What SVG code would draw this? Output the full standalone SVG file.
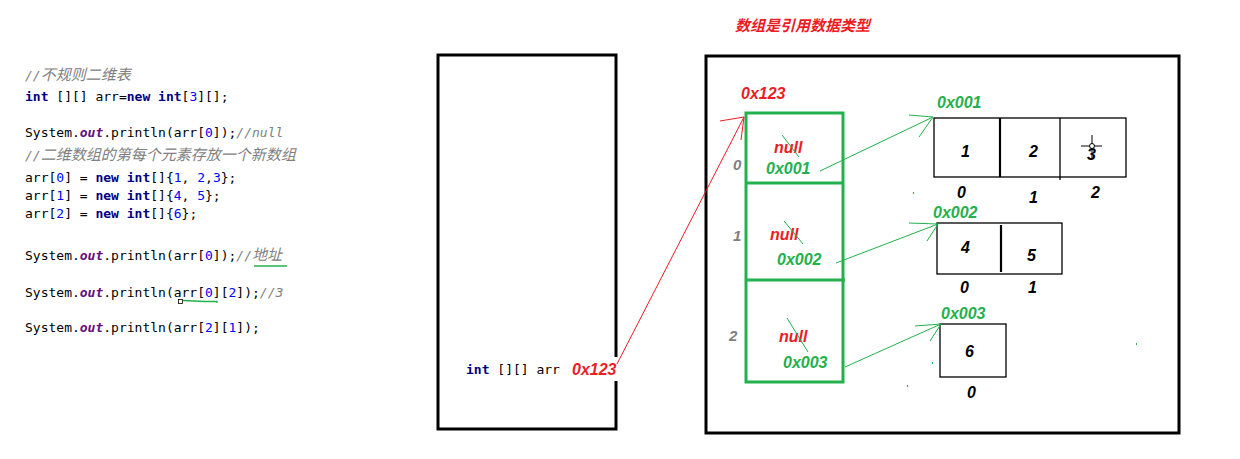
<svg xmlns="http://www.w3.org/2000/svg" width="1240" height="459" viewBox="0 0 1240 459">
<defs>
<style>
.code{font-family:"DejaVu Sans Mono","Noto Sans CJK SC",monospace;font-size:13px;fill:#000}
.kw{font-weight:bold;fill:#000080}
.num{fill:#0000ff}
.out{font-weight:bold;font-style:italic;fill:#660e7a}
.cm{font-style:italic;fill:#808080}
.cjk{font-family:"Noto Sans CJK SC",sans-serif;font-size:15px}
.lbl{font-family:"Liberation Sans",Arial,sans-serif;font-weight:bold;font-style:italic;font-size:16px}
.red{fill:#ed1c24}
.grn{fill:#22b14c}
.blk{fill:#000}
.gry{fill:#7f7f7f;font-size:15px}
.frame{fill:none;stroke:#000;stroke-width:3}
.cell{fill:none;stroke:#000;stroke-width:1.3}
.gbox{fill:none;stroke:#22b14c;stroke-width:3}
.gl{stroke:#22b14c;stroke-width:1;fill:none}
.rl{stroke:#ed1c24;stroke-width:1;fill:none}
</style>
</defs>
<rect width="1240" height="459" fill="#fff"/>

<g id="title">
<text x="735" y="31" font-family="Noto Sans CJK SC,sans-serif" font-size="15" font-weight="bold" font-style="italic" fill="#ed1c24">数组是引用数据类型</text>
</g>

<g id="code">
<text class="code" x="25" y="80"><tspan class="cm">//<tspan class="cjk">不规则二维表</tspan></tspan></text>
<text class="code" x="25" y="101"><tspan class="kw">int</tspan> [][] arr=<tspan class="kw">new</tspan> <tspan class="kw">int</tspan>[<tspan class="num">3</tspan>][];</text>
<text class="code" x="25" y="137">System.<tspan class="out">out</tspan>.println(arr[<tspan class="num">0</tspan>]);<tspan class="cm">//null</tspan></text>
<text class="code" x="25" y="160"><tspan class="cm">//<tspan class="cjk">二维数组的第每个元素存放一个新数组</tspan></tspan></text>
<text class="code" x="25" y="182">arr[<tspan class="num">0</tspan>] = <tspan class="kw">new</tspan> <tspan class="kw">int</tspan>[]{<tspan class="num">1</tspan>, <tspan class="num">2</tspan>,<tspan class="num">3</tspan>};</text>
<text class="code" x="25" y="200">arr[<tspan class="num">1</tspan>] = <tspan class="kw">new</tspan> <tspan class="kw">int</tspan>[]{<tspan class="num">4</tspan>, <tspan class="num">5</tspan>};</text>
<text class="code" x="25" y="218">arr[<tspan class="num">2</tspan>] = <tspan class="kw">new</tspan> <tspan class="kw">int</tspan>[]{<tspan class="num">6</tspan>};</text>
<text class="code" x="25" y="260">System.<tspan class="out">out</tspan>.println(arr[<tspan class="num">0</tspan>]);<tspan class="cm">//<tspan class="cjk">地址</tspan></tspan></text>
<text class="code" x="25" y="297">System.<tspan class="out">out</tspan>.println(arr[<tspan class="num">0</tspan>][<tspan class="num">2</tspan>]);<tspan class="cm">//3</tspan></text>
<text class="code" x="25" y="332">System.<tspan class="out">out</tspan>.println(arr[<tspan class="num">2</tspan>][<tspan class="num">1</tspan>]);</text>
<path d="M254,266 H287" stroke="#22b14c" stroke-width="1.5"/>
<path d="M183,300.5 L205,301.5 H217 V303" stroke="#22b14c" stroke-width="1.3" fill="none"/>
<rect x="178.5" y="299.5" width="4" height="4" fill="none" stroke="#000" stroke-width="0.8"/>
</g>

<g id="stack">
<path class="frame" d="M616,357 V55 H438 V429 H616 V381"/>
<text class="code" x="466" y="374"><tspan class="kw">int</tspan> [][] arr</text>
<text class="lbl red" x="572" y="375">0x123</text>
</g>

<g id="heap">
<rect class="frame" x="706" y="56" width="473" height="377"/>
</g>

<g id="outer-array">
<text class="lbl red" x="741" y="99">0x123</text>
<rect class="gbox" x="746" y="113" width="97" height="269"/>
<path class="gbox" d="M746,183 H843 M746,280 H845"/>
<text class="lbl gry" x="733" y="170">0</text>
<text class="lbl gry" x="733" y="241">1</text>
<text class="lbl gry" x="729" y="341">2</text>
<text class="lbl red" x="774" y="153">null</text>
<path class="gl" d="M782,135 L799,157"/>
<text class="lbl grn" x="766" y="174">0x001</text>
<text class="lbl red" x="770" y="240">null</text>
<path class="gl" d="M784,221 L803,244"/>
<text class="lbl grn" x="777" y="265">0x002</text>
<text class="lbl red" x="779" y="342">null</text>
<path class="gl" d="M787,318 L808,352"/>
<text class="lbl grn" x="783" y="368">0x003</text>
</g>

<g id="array-0x001">
<text class="lbl grn" x="937" y="108">0x001</text>
<rect class="cell" x="934" y="118" width="192" height="59"/>
<path d="M1000,118 V177" stroke="#000" stroke-width="2.2"/>
<path d="M1060,118 V180" stroke="#000" stroke-width="1.3"/>
<text class="lbl blk" x="961" y="157">1</text>
<text class="lbl blk" x="1029" y="157">2</text>
<text class="lbl blk" x="1087" y="160">3</text>
<text class="lbl blk" x="957" y="198">0</text>
<text class="lbl blk" x="1029" y="203">1</text>
<text class="lbl blk" x="1091" y="198">2</text>
<path d="M1081,146 H1102 M1092,135 V160" stroke="#000" stroke-width="1"/>
<circle cx="1092" cy="146" r="2.5" fill="#fff" stroke="#000" stroke-width="1"/>
</g>

<g id="array-0x002">
<text class="lbl grn" x="933" y="218">0x002</text>
<rect class="cell" x="937" y="223" width="125" height="51"/>
<path d="M1001,225 V272" stroke="#000" stroke-width="2.2"/>
<text class="lbl blk" x="961" y="253">4</text>
<text class="lbl blk" x="1027" y="261">5</text>
<text class="lbl blk" x="960" y="293">0</text>
<text class="lbl blk" x="1028" y="293">1</text>
</g>

<g id="array-0x003">
<text class="lbl grn" x="941" y="319">0x003</text>
<rect class="cell" x="940" y="324" width="66" height="53"/>
<text class="lbl blk" x="965" y="357">6</text>
<text class="lbl blk" x="967" y="398">0</text>
</g>

<g id="connectors">
<path class="rl" d="M617,364 L744,117 M720,121 L744,117 L741,140"/>
<path class="gl" d="M820,171 L933,117 M909,115 L933,117 L919,137"/>
<path class="gl" d="M836,263 L938,224 M909,223 L938,224 L927,241"/>
<path class="gl" d="M845,367 L941,324 M915,326 L941,324 L930,341"/>
</g>

<g id="marks" fill="#22b14c">
<rect x="913" y="192" width="1" height="2"/>
<rect x="1136" y="343" width="1" height="2"/>
<rect x="907" y="385" width="1" height="2"/>
<rect x="932" y="362" width="1" height="2"/>
</g>
</svg>
